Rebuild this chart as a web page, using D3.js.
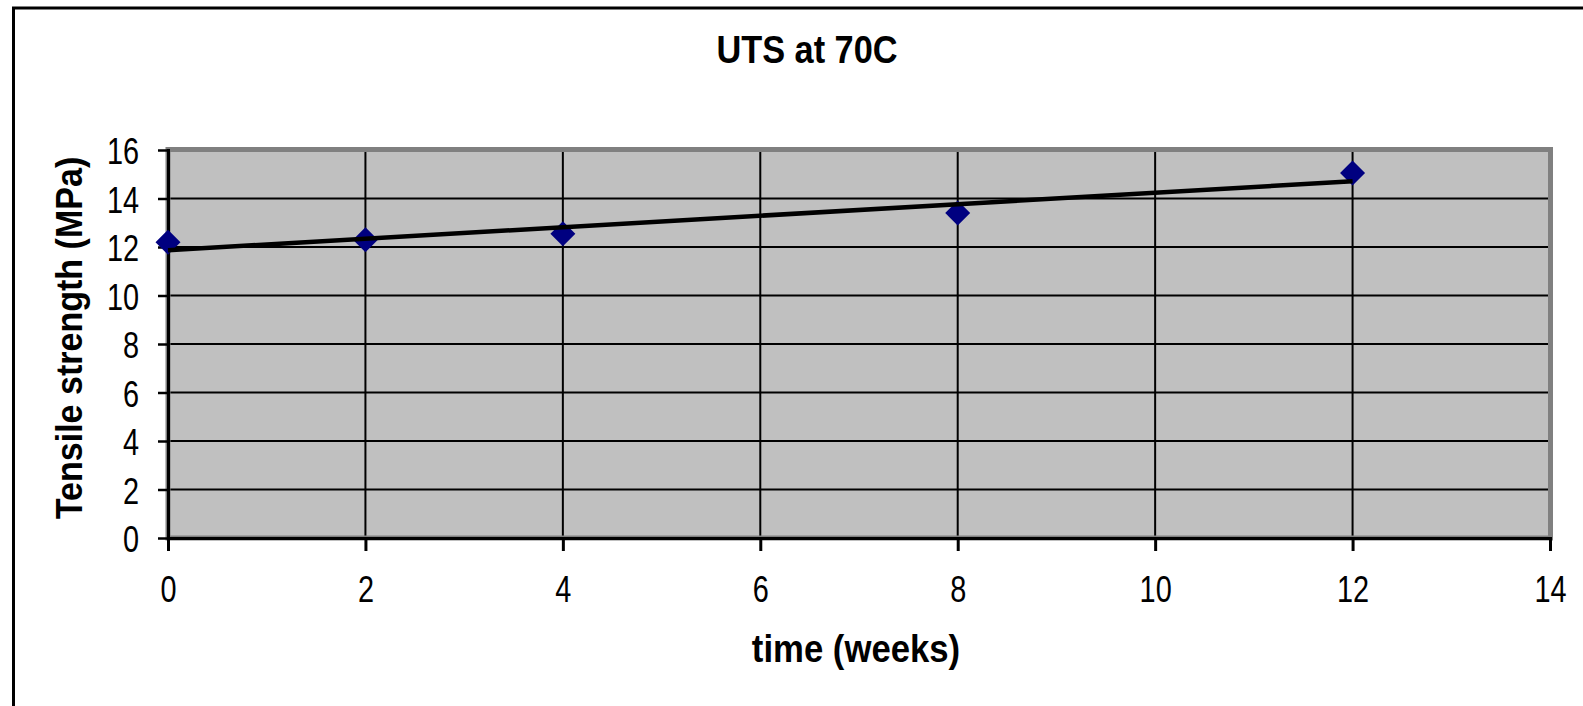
<!DOCTYPE html>
<html lang="en">
<head>
    <meta charset="UTF-8">
    <title>UTS at 70C</title>
    <script src="https://d3js.org/d3.v7.min.js"></script>
    <style>
        body { margin: 0; background: #fff; }
        svg { display: block; font-family: "Liberation Sans", Arial, sans-serif; }
    </style>
</head>
<body>
    <svg width="1583" height="706"></svg>
    <script>
        // Data
        const weeks = [0, 2, 4, 8, 12];
        const uts = [12.2, 12.3, 12.55, 13.4, 15.05];
        const xTicks = [0, 2, 4, 6, 8, 10, 12, 14];
        const yTicks = [0, 2, 4, 6, 8, 10, 12, 14, 16];

        const svg = d3.select("svg");

        // Plot area box
        const plot = { left: 168, right: 1550, top: 150, bottom: 538 };

        const x = d3.scaleLinear().domain([0, 14]).range([plot.left, plot.right]);
        const y = d3.scaleLinear().domain([0, 16]).range([plot.bottom, plot.top]);

        // Outer chart frame (only top and left show on the page)
        svg.append("rect")
            .attr("x", 13.5).attr("y", 8)
            .attr("width", 1700).attr("height", 800)
            .attr("fill", "none")
            .attr("stroke", "#000")
            .attr("stroke-width", 3);

        // Grey plot area
        svg.append("rect")
            .attr("x", plot.left).attr("y", plot.top)
            .attr("width", plot.right - plot.left)
            .attr("height", plot.bottom - plot.top)
            .attr("fill", "#c0c0c0");

        // Gridlines
        svg.append("g")
            .selectAll("line")
            .data(yTicks)
            .join("line")
            .attr("x1", plot.left).attr("x2", plot.right)
            .attr("y1", d => y(d)).attr("y2", d => y(d))
            .attr("stroke", "#000").attr("stroke-width", 2);

        svg.append("g")
            .selectAll("line")
            .data(xTicks)
            .join("line")
            .attr("x1", d => x(d)).attr("x2", d => x(d))
            .attr("y1", plot.top).attr("y2", plot.bottom)
            .attr("stroke", "#000").attr("stroke-width", 2);

        // Plot area border (grey)
        svg.append("rect")
            .attr("x", plot.left).attr("y", plot.top - 0.5)
            .attr("width", plot.right - plot.left + 0.5)
            .attr("height", plot.bottom - plot.top + 0.5)
            .attr("fill", "none")
            .attr("stroke", "#808080")
            .attr("stroke-width", 5);

        const tickScale = 0.78;

        // X axis
        const xAxis = svg.append("g")
            .attr("transform", `translate(0,${plot.bottom})`)
            .call(d3.axisBottom(x).tickValues(xTicks).tickSize(13).tickSizeOuter(0));
        xAxis.select(".domain").attr("stroke", "#000").attr("stroke-width", 3);
        xAxis.selectAll(".tick line").attr("stroke", "#000").attr("stroke-width", 3);
        xAxis.selectAll(".tick text")
            .attr("y", 64).attr("dy", 0)
            .attr("transform", `scale(${tickScale},1)`)
            .style("font-size", "37px")
            .attr("fill", "#000");

        // Y axis
        const yAxis = svg.append("g")
            .attr("transform", `translate(${plot.left},0)`)
            .call(d3.axisLeft(y).tickValues(yTicks).tickSize(10).tickSizeOuter(0));
        yAxis.select(".domain").attr("stroke", "#000").attr("stroke-width", 3);
        yAxis.selectAll(".tick line").attr("stroke", "#000").attr("stroke-width", 2.5);
        yAxis.selectAll(".tick text")
            .attr("x", -29 / tickScale).attr("y", 13.5).attr("dy", 0)
            .attr("transform", `scale(${tickScale},1)`)
            .style("font-size", "37px")
            .attr("fill", "#000");
        svg.selectAll(".domain").attr("stroke-linecap", "square");

        // Data markers (navy diamonds)
        const points = weeks.map((w, i) => ({ w, v: uts[i] }));
        svg.append("g")
            .selectAll("path")
            .data(points)
            .join("path")
            .attr("d", d3.symbol(d3.symbolSquare, 312))
            .attr("transform", d => `translate(${x(d.w)},${y(d.v)}) rotate(45)`)
            .attr("fill", "#000080");

        // Linear trendline (least squares over the points)
        const mx = d3.mean(weeks), my = d3.mean(uts);
        const slope = d3.sum(weeks, (w, i) => (w - mx) * (uts[i] - my)) /
                      d3.sum(weeks, w => (w - mx) * (w - mx));
        const intercept = my - slope * mx;
        const xEnds = d3.extent(weeks);
        svg.append("line")
            .attr("x1", x(xEnds[0])).attr("y1", y(intercept + slope * xEnds[0]))
            .attr("x2", x(xEnds[1])).attr("y2", y(intercept + slope * xEnds[1]))
            .attr("stroke", "#000")
            .attr("stroke-width", 4.5);

        // Title
        svg.append("text")
            .attr("transform", "translate(807,63) scale(0.88,1)")
            .attr("text-anchor", "middle")
            .style("font-size", "39px")
            .style("font-weight", "bold")
            .text("UTS at 70C");

        // X axis title
        svg.append("text")
            .attr("transform", `translate(${(plot.left + plot.right) / 2 - 3},662) scale(0.89,1)`)
            .attr("text-anchor", "middle")
            .style("font-size", "39px")
            .style("font-weight", "bold")
            .text("time (weeks)");

        // Y axis title
        svg.append("text")
            .attr("transform", `translate(82,338) rotate(-90) scale(0.92,1)`)
            .attr("text-anchor", "middle")
            .style("font-size", "37px")
            .style("font-weight", "bold")
            .text("Tensile strength (MPa)");
    </script>
</body>
</html>
